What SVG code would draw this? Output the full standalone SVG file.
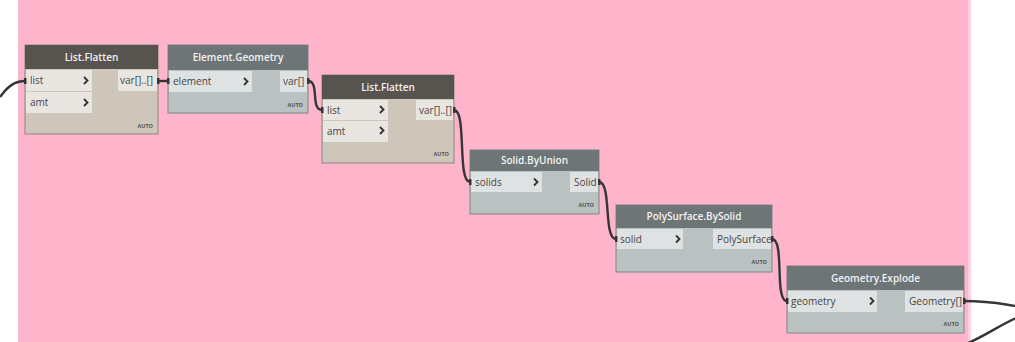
<svg xmlns="http://www.w3.org/2000/svg" width="1015" height="342" viewBox="0 0 1015 342">
<style>
.hdrT{font-family:"Open Sans","Liberation Sans",sans-serif;font-size:10px;font-weight:600;fill:#f2f2f2;text-anchor:middle}
.pt{font-family:"Open Sans","Liberation Sans",sans-serif;font-size:10px;fill:#444}
.auto{font-family:"Open Sans","Liberation Sans",sans-serif;font-size:5.5px;font-weight:bold;fill:#555;text-anchor:end}
.chev{fill:none;stroke:#333;stroke-width:1.8}
.tanBody{fill:#cfc6bb;stroke:#8a8580;stroke-width:1}
.tanHdr{fill:#57534f}
.tanPort{fill:#e9e5e1}
.gBody{fill:#b9c1c1;stroke:#7e8585;stroke-width:1}
.gHdr{fill:#6d7577}
.gPort{fill:#dfe2e2}
.wire{fill:none;stroke:#353535;stroke-width:2.4}
.tab{fill:#353535}
</style>
<rect x="0" y="0" width="1015" height="342" fill="#ffffff"/>
<rect x="18" y="0" width="952" height="342" fill="#feb4cb"/>
<rect x="968" y="0" width="3" height="342" fill="#ffd0df"/>

<g id="connectors">
<path class="wire" d="M0,97 C8,86 15,81 25,81"/>
<path class="wire" d="M158,81 L168,81"/>
<path class="wire" d="M308,81 C320,81 310,110 322,110"/>
<path class="wire" d="M454,110 C467,110 457,182 470,182"/>
<path class="wire" d="M599,182 C612,182 603,239 616,239"/>
<path class="wire" d="M772,239 C785,239 774,301 787,301"/>
<path class="wire" d="M964,301 C990,301 1002,304 1016,306"/>
<path class="wire" d="M966,344 C985,336 1000,325 1016,318"/>
</g>

<g id="node-list-flatten-1">
<rect class="tanBody" x="25" y="45" width="133" height="89"/>
<rect class="tanHdr" x="25" y="45" width="133" height="24"/>
<text class="hdrT" x="91.5" y="61">List.Flatten</text>
<rect class="tanPort" x="26" y="70" width="66" height="21"/>
<rect class="tanPort" x="26" y="92" width="66" height="21"/>
<rect class="tanPort" x="118" y="70" width="39" height="21"/>
<text class="pt" x="30" y="84">list</text>
<text class="pt" x="30" y="106">amt</text>
<text class="pt" x="120" y="84">var[]..[]</text>
<path class="chev" d="M84,77 l3.5,3.5 l-3.5,3.5"/>
<path class="chev" d="M84,99 l3.5,3.5 l-3.5,3.5"/>
<text class="auto" x="153" y="128">AUTO</text>
<rect class="tab" x="24" y="78" width="2.5" height="6"/>
<rect class="tab" x="157" y="78" width="2.5" height="6"/>
</g>

<g id="node-element-geometry">
<rect class="gBody" x="168" y="45" width="140" height="68"/>
<rect class="gHdr" x="168" y="45" width="140" height="25"/>
<text class="hdrT" x="238" y="61">Element.Geometry</text>
<rect class="gPort" x="169" y="71" width="83" height="21"/>
<rect class="gPort" x="280" y="71" width="27" height="21"/>
<text class="pt" x="173" y="85">element</text>
<text class="pt" x="283" y="85">var[]</text>
<path class="chev" d="M244,78 l3.5,3.5 l-3.5,3.5"/>
<text class="auto" x="303" y="107">AUTO</text>
<rect class="tab" x="167" y="78" width="2.5" height="6"/>
<rect class="tab" x="307" y="78" width="2.5" height="6"/>
</g>

<g id="node-list-flatten-2">
<rect class="tanBody" x="322" y="75" width="132" height="88"/>
<rect class="tanHdr" x="322" y="75" width="132" height="24"/>
<text class="hdrT" x="388" y="91">List.Flatten</text>
<rect class="tanPort" x="323" y="100" width="65" height="20"/>
<rect class="tanPort" x="323" y="121" width="65" height="21"/>
<rect class="tanPort" x="416" y="100" width="37" height="20"/>
<text class="pt" x="327" y="114">list</text>
<text class="pt" x="327" y="135">amt</text>
<text class="pt" x="419" y="114">var[]..[]</text>
<path class="chev" d="M380,106 l3.5,3.5 l-3.5,3.5"/>
<path class="chev" d="M380,127 l3.5,3.5 l-3.5,3.5"/>
<text class="auto" x="449" y="156">AUTO</text>
<rect class="tab" x="321" y="107" width="2.5" height="6"/>
<rect class="tab" x="453" y="107" width="2.5" height="6"/>
</g>

<g id="node-solid-byunion">
<rect class="gBody" x="470" y="150" width="129" height="64"/>
<rect class="gHdr" x="470" y="150" width="129" height="21"/>
<text class="hdrT" x="534.5" y="164">Solid.ByUnion</text>
<rect class="gPort" x="471" y="172" width="71" height="20"/>
<rect class="gPort" x="570" y="172" width="28" height="20"/>
<text class="pt" x="475" y="186">solids</text>
<text class="pt" x="574" y="186">Solid</text>
<path class="chev" d="M534,178.5 l3.5,3.5 l-3.5,3.5"/>
<text class="auto" x="594" y="207">AUTO</text>
<rect class="tab" x="469" y="179" width="2.5" height="6"/>
<rect class="tab" x="598" y="179" width="2.5" height="6"/>
</g>

<g id="node-polysurface-bysolid">
<rect class="gBody" x="616" y="205" width="156" height="67"/>
<rect class="gHdr" x="616" y="205" width="156" height="23"/>
<text class="hdrT" x="694" y="220">PolySurface.BySolid</text>
<rect class="gPort" x="617" y="229" width="66" height="20"/>
<rect class="gPort" x="713" y="229" width="58" height="20"/>
<text class="pt" x="620" y="243">solid</text>
<text class="pt" x="717" y="243">PolySurface</text>
<path class="chev" d="M676,235.5 l3.5,3.5 l-3.5,3.5"/>
<text class="auto" x="767" y="264">AUTO</text>
<rect class="tab" x="615" y="236" width="2.5" height="6"/>
<rect class="tab" x="771" y="236" width="2.5" height="6"/>
</g>

<g id="node-geometry-explode">
<rect class="gBody" x="787" y="266" width="177" height="67"/>
<rect class="gHdr" x="787" y="266" width="177" height="24"/>
<text class="hdrT" x="875.5" y="282">Geometry.Explode</text>
<rect class="gPort" x="788" y="291" width="89" height="21"/>
<rect class="gPort" x="905" y="291" width="58" height="21"/>
<text class="pt" x="791" y="305">geometry</text>
<text class="pt" x="909" y="305">Geometry[]</text>
<path class="chev" d="M870,297.5 l3.5,3.5 l-3.5,3.5"/>
<text class="auto" x="959" y="326">AUTO</text>
<rect class="tab" x="786" y="298" width="2.5" height="6"/>
<rect class="tab" x="963" y="298" width="2.5" height="6"/>
</g>
</svg>
